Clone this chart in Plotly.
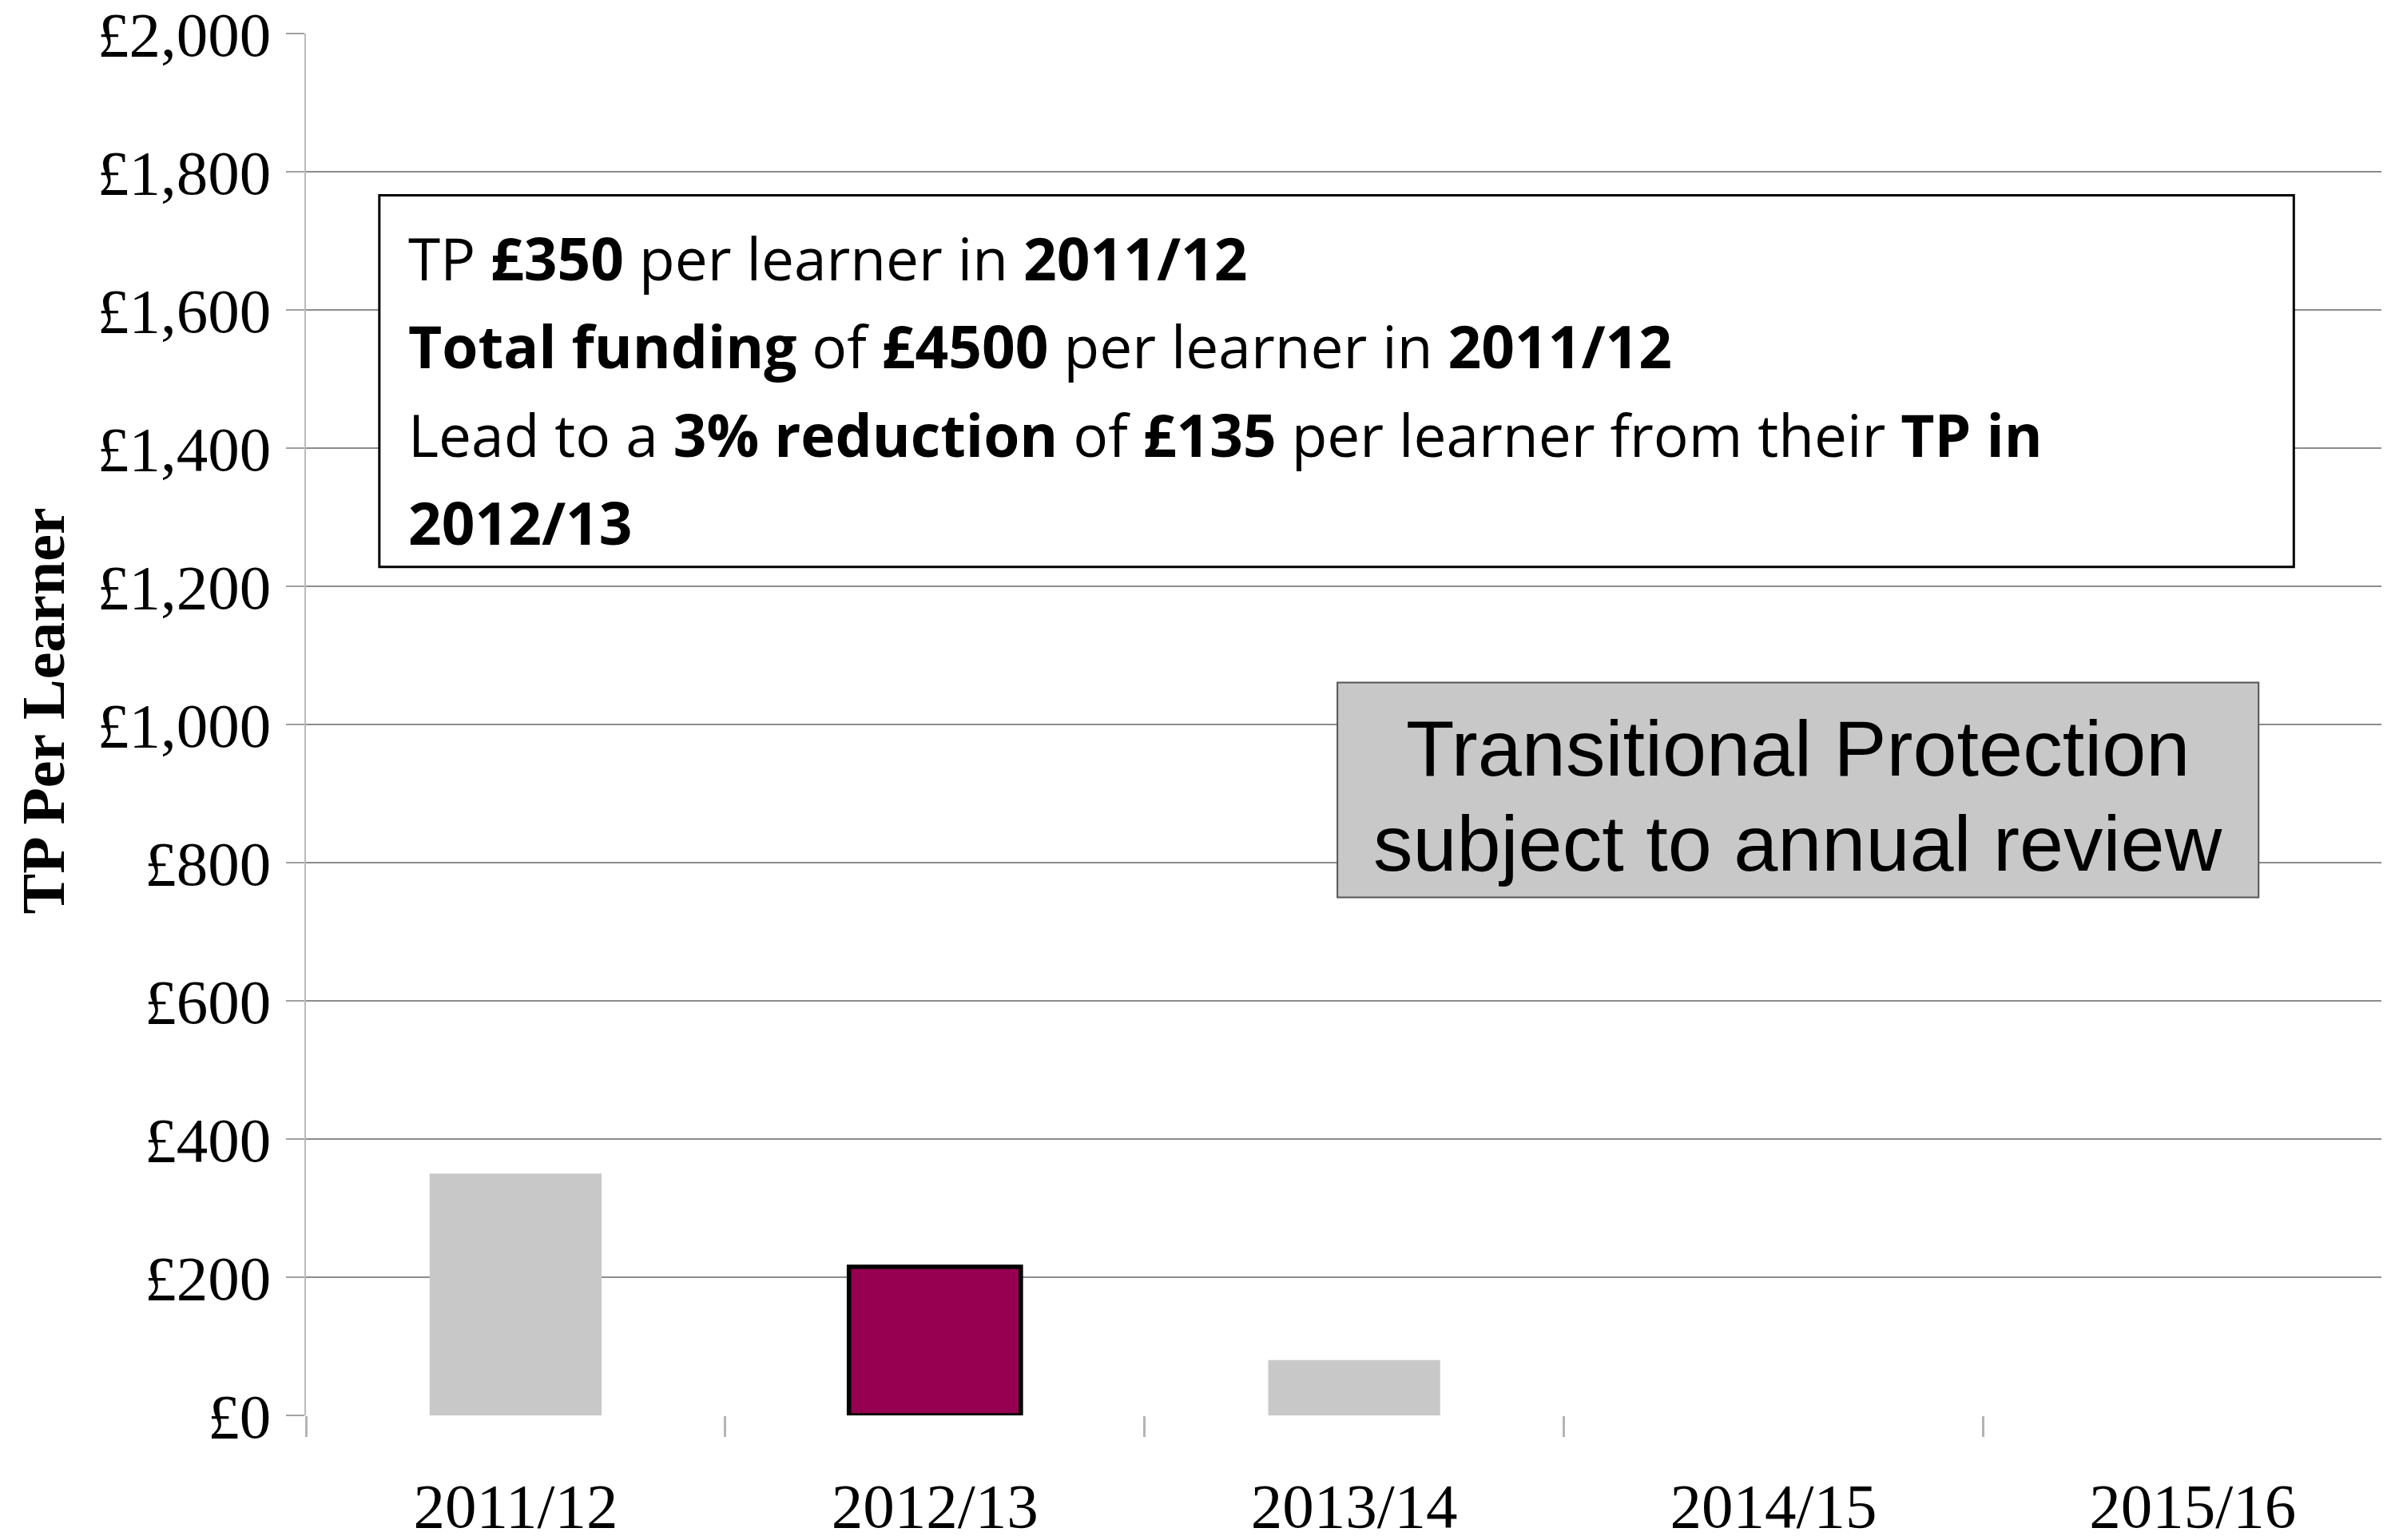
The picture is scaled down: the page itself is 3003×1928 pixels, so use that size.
import plotly.graph_objects as go

# chart data
years = ['2011/12', '2012/13', '2013/14', '2014/15', '2015/16']
tp_per_learner = [350, 215, 80, 0, 0]
highlight = '2012/13'

y_ticks = list(range(0, 2001, 200))
y_labels = ['£{:,}'.format(v) for v in y_ticks]

box_lines = [
    'TP <b>£350</b> per learner in <b>2011/12</b>',
    '<b>Total funding</b> of <b>£4500</b> per learner in <b>2011/12</b>',
    'Lead to a <b>3% reduction</b> of <b>£135</b> per learner from their <b>TP in</b>',
    '<b>2012/13</b>',
]
review_lines = ['Transitional Protection', 'subject to annual review']

# styling per bar
colors = ['#970050' if y == highlight else '#C8C8C8' for y in years]
line_w = [5.5 if y == highlight else 0 for y in years]

fig = go.Figure()
fig.add_trace(go.Bar(
    x=years, y=tp_per_learner, width=0.41,
    marker=dict(color=colors, line=dict(color='black', width=line_w)),
    showlegend=False,
))

serif = 'Liberation Serif, Times New Roman, serif'

# page body has an 8px margin, so the figure is 8px smaller than the window
fig.update_layout(
    width=2995, height=1920,
    margin=dict(l=375, r=22, t=34, b=156),
    paper_bgcolor='white', plot_bgcolor='white',
    xaxis=dict(
        type='category', range=[-0.5, 4.45], automargin=False,
        tickson='boundaries', ticks='outside', ticklen=26, tickwidth=3,
        tickcolor='#B4B4B4', showgrid=False, showline=False,
        tickfont=dict(family=serif, size=79, color='black'),
        ticklabelstandoff=60,
    ),
    yaxis=dict(
        range=[0, 2000], tickvals=y_ticks, ticktext=y_labels, automargin=False,
        ticklabeloverflow='allow',
        ticks='outside', ticklen=23, tickwidth=2, tickcolor='#A0A0A0',
        showgrid=True, gridcolor='#8C8C8C', gridwidth=2, zeroline=False,
        showline=True, linecolor='#BBBBBB', linewidth=2,
        tickfont=dict(family=serif, size=79, color='black'),
        ticklabelstandoff=3,
    ),
)

# y axis title
fig.add_annotation(
    text='<b>TP Per Learner</b>', textangle=-90, showarrow=False,
    xref='paper', yref='paper', x=(54 - 383) / 2598, y=(1771.3 - 890) / 1729.6,
    xanchor='center', yanchor='middle',
    font=dict(family=serif, size=76, color='black'),
)

# info box
fig.add_shape(type='rect', xref='x', yref='y', x0=-0.325, x1=4.241, y0=1228, y1=1766,
              fillcolor='white', line=dict(color='black', width=3), layer='above')
for i, t in enumerate(box_lines):
    fig.add_annotation(
        text=t, showarrow=False, xref='x', yref='paper',
        x=-0.5 + (509 - 383) / 524.8, y=(1771.3 - (322 + 110.5 * i)) / 1729.6,
        xanchor='left', yanchor='middle',
        font=dict(family='Open Sans, Lato, sans-serif', size=73, color='black'),
    )

# review box
fig.add_shape(type='rect', xref='x', yref='y',
              x0=-0.5 + (1674 - 383) / 524.8, x1=-0.5 + (2827 - 383) / 524.8,
              y0=(1771.3 - 1123) / 0.8648, y1=(1771.3 - 854) / 0.8648,
              fillcolor='#C8C8C8', line=dict(color='#555555', width=2), layer='above')
for i, t in enumerate(review_lines):
    fig.add_annotation(
        text=t, showarrow=False, xref='x', yref='paper',
        x=-0.5 + (2250 - 383) / 524.8, y=(1771.3 - (936 + 119 * i)) / 1729.6,
        xanchor='center', yanchor='middle',
        font=dict(family='Liberation Sans, Arial, sans-serif', size=99, color='black'),
    )

fig.write_html('out.html')
